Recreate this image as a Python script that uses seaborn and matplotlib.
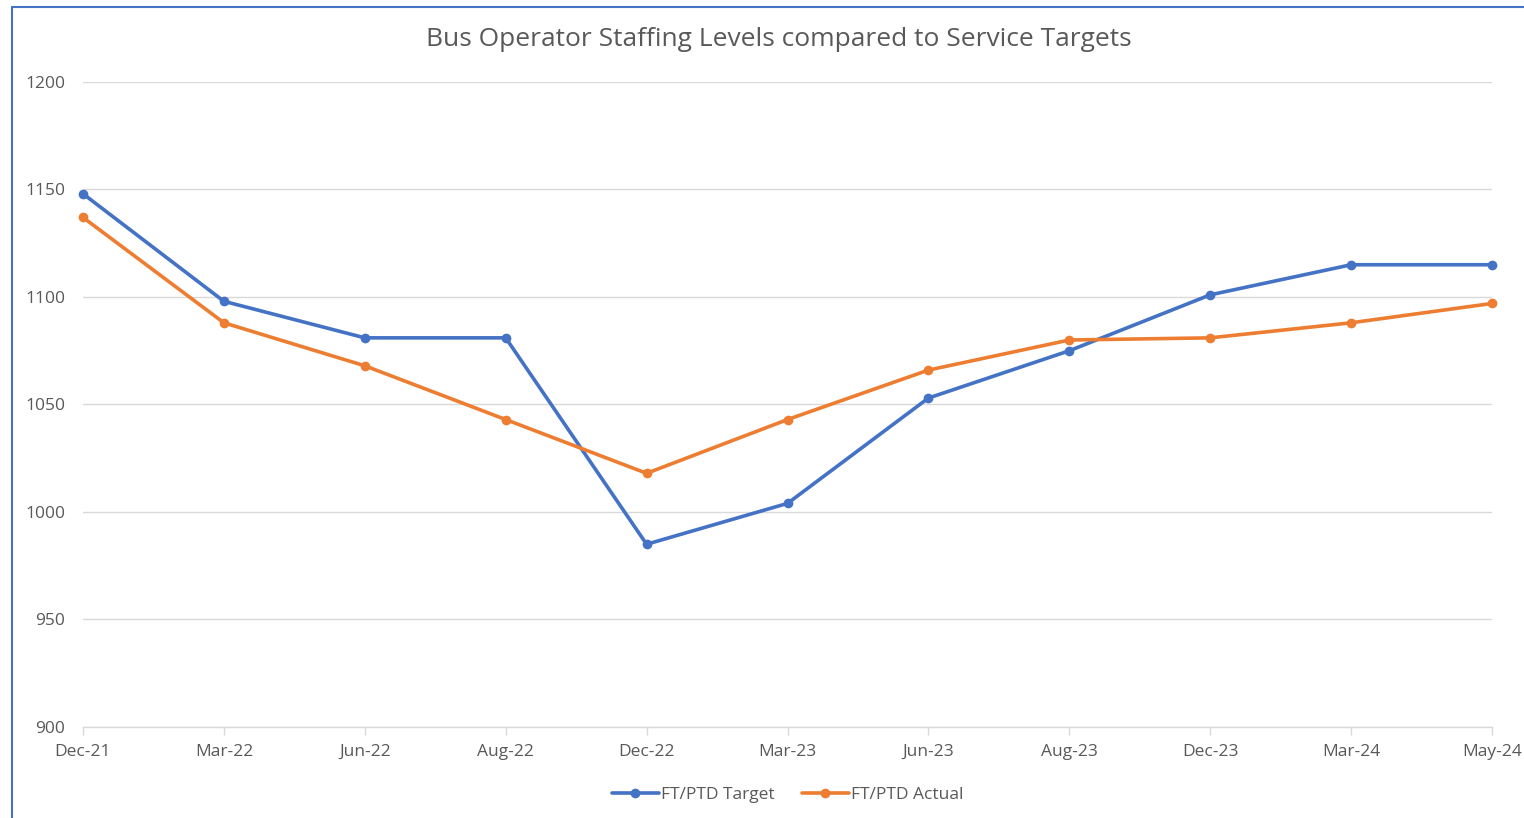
import matplotlib
matplotlib.use("Agg")
import matplotlib.pyplot as plt
import seaborn as sns
import pandas as pd
from matplotlib.lines import Line2D

categories = ["Dec-21", "Mar-22", "Jun-22", "Aug-22", "Dec-22", "Mar-23",
              "Jun-23", "Aug-23", "Dec-23", "Mar-24", "May-24"]
target = [1148, 1098, 1081, 1081, 985, 1004, 1053, 1075, 1101, 1115, 1115]
actual = [1137, 1088, 1068, 1043, 1018, 1043, 1066, 1080, 1081, 1088, 1097]
series_names = ["FT/PTD Target", "FT/PTD Actual"]
y_ticks = [900, 950, 1000, 1050, 1100, 1150, 1200]
title = "Bus Operator Staffing Levels compared to Service Targets"

df = pd.DataFrame({
    "pos": list(range(len(categories))) * 2,
    "value": target + actual,
    "series": [series_names[0]] * len(categories) + [series_names[1]] * len(categories),
})

sns.set_theme(style="white")
plt.rcParams["font.family"] = ["Open Sans", "DejaVu Sans"]

fig = plt.figure(figsize=(15.24, 8.18), dpi=100)
ax = fig.add_axes([83 / 1524, 1 - 727 / 818, (1492 - 83) / 1524, (727 - 82) / 818])

palette = {series_names[0]: "#4472C4", series_names[1]: "#ED7D31"}
sns.lineplot(data=df, x="pos", y="value", hue="series", palette=palette,
             marker="o", markersize=7, markeredgewidth=0, linewidth=2.6,
             sort=False, ax=ax, legend=True)
for ln in ax.lines:
    ln.set_clip_on(False)

ax.set_xlim(0, len(categories) - 1)
ax.set_ylim(900, 1200)
ax.set_yticks(y_ticks)
ax.set_xticks(range(len(categories)))
ax.set_xticklabels(categories)
ax.set_xlabel("")
ax.set_ylabel("")
ax.grid(axis="y", color="#D9D9D9", linewidth=1)
ax.set_axisbelow(True)
for s in ["left", "right", "top"]:
    ax.spines[s].set_visible(False)
ax.spines["bottom"].set_color("#D9D9D9")
ax.spines["bottom"].set_linewidth(1)
ax.tick_params(axis="x", colors="#D9D9D9", labelcolor="#595959", length=6,
               width=1, direction="out", labelsize=12.5, pad=6, bottom=True)
ax.tick_params(axis="y", length=0, labelcolor="#595959", labelsize=12.5, pad=13)

fig.text(779 / 1524, 1 - 39 / 818, title, ha="center", va="center",
         fontsize=19, color="#595959")

leg = ax.legend(loc="center", bbox_to_anchor=(0.5, (727 - 795) / (727 - 82)),
                ncol=2, frameon=False, fontsize=12.5, handlelength=2.7,
                handletextpad=0.1, columnspacing=1.6)
for t in leg.get_texts():
    t.set_color("#595959")

fig.add_artist(Line2D([12 / 1524, 12 / 1524], [0, 1 - 7 / 818], color="#4472C4", linewidth=1.5))
fig.add_artist(Line2D([12 / 1524, 1], [1 - 7 / 818, 1 - 7 / 818], color="#4472C4", linewidth=1.5))

fig.savefig("out.png", dpi=100)
